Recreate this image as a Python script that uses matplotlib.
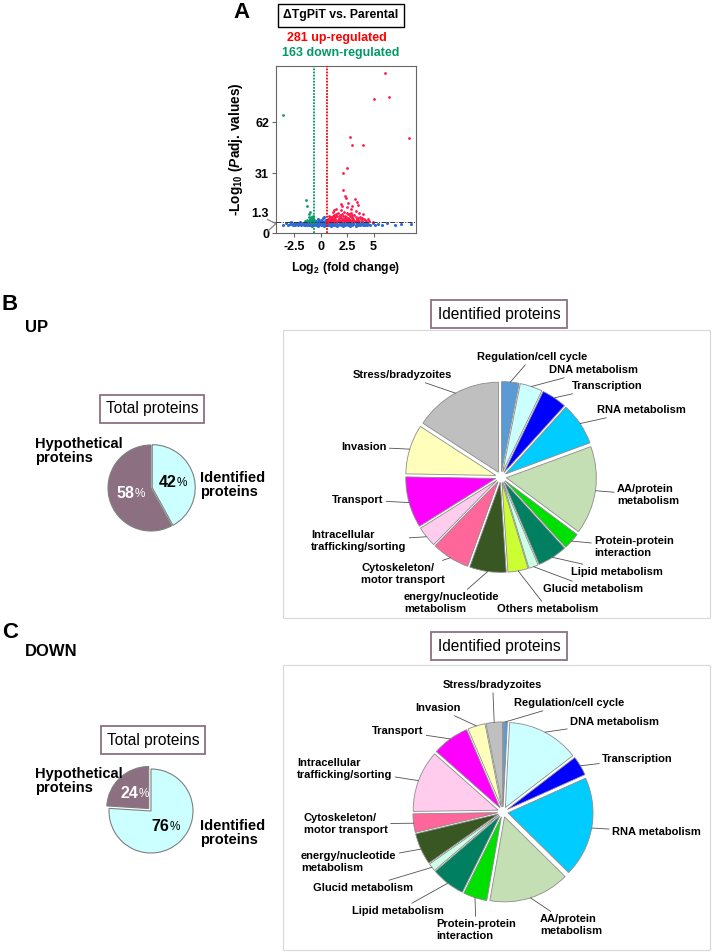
import numpy as np
import matplotlib.pyplot as plt
import matplotlib.transforms as mtransforms
from matplotlib.patches import Rectangle

plt.rcParams['font.family'] = ['Liberation Sans', 'DejaVu Sans']
plt.rcParams['mathtext.fontset'] = 'custom'
plt.rcParams['mathtext.rm'] = 'Liberation Sans'
plt.rcParams['mathtext.bf'] = 'Liberation Sans:bold'
plt.rcParams['mathtext.it'] = 'Liberation Sans:italic:bold'
plt.rcParams['mathtext.default'] = 'bf'

# ---- volcano data (log2 fold change, -log10 padj) ----
up_pts = [(6.1, 92), (5.0, 76), (6.5, 77), (8.35, 52), (2.8, 53), (3.0, 48), (4.0, 48),
          (2.5, 34), (2.1, 31), (2.1, 21), (3.25, 15.5), (2.4, 16), (3.4, 13.5),
          (0.7, 2.0), (0.8, 3.1), (0.9, 1.6), (1.0, 4.2), (1.1, 2.5), (1.2, 1.9), (1.3, 5.6),
          (1.4, 3.0), (1.5, 2.2), (1.6, 6.8), (1.7, 4.0), (1.8, 1.8), (1.9, 3.5), (2.0, 2.6),
          (2.1, 5.0), (2.2, 7.5), (2.3, 2.1), (2.4, 4.4), (2.5, 3.2), (2.6, 1.7), (2.7, 6.1),
          (2.8, 2.8), (2.9, 9.4), (3.0, 3.9), (3.1, 2.3), (3.2, 5.3), (3.3, 1.9), (3.4, 3.3),
          (3.5, 2.5), (3.7, 4.6), (3.9, 2.0), (4.1, 2.9), (0.75, 5.0), (0.95, 2.9), (1.15, 7.2),
          (1.35, 1.5), (1.55, 4.8), (1.75, 2.7), (1.95, 8.3), (2.15, 1.6), (2.35, 3.8),
          (2.55, 5.9), (2.75, 2.0), (2.95, 4.1), (3.15, 1.7), (3.6, 6.6), (1.05, 3.6),
          (1.45, 9.0), (2.05, 11.0), (2.45, 10.2), (3.35, 8.0), (0.85, 2.3), (1.25, 2.9),
          (1.65, 1.9), (2.25, 2.4), (2.65, 3.0), (3.05, 2.2), (3.45, 1.8), (3.8, 3.1),
          (4.3, 1.7), (4.9, 1.5), (1.85, 5.5), (2.85, 7.0), (0.65, 1.5), (4.6, 2.1),
          (0.7, 3.3), (0.8, 1.5), (0.9, 4.6), (1.0, 2.1), (1.1, 3.4), (1.2, 5.0), (1.3, 2.3),
          (1.4, 4.1), (1.5, 6.0), (1.6, 2.8), (1.7, 1.6), (1.8, 4.8), (1.9, 2.0), (2.0, 6.4),
          (2.1, 3.3), (2.2, 1.8), (2.3, 4.9), (2.4, 2.6), (2.5, 7.0), (2.6, 4.0), (2.7, 2.4),
          (2.8, 4.9), (2.9, 1.9), (3.0, 5.8), (3.1, 3.2), (3.2, 2.0), (3.3, 4.3), (3.5, 3.6),
          (3.6, 1.6), (3.9, 4.0), (4.2, 2.4), (4.5, 3.3), (1.9, 12.5), (2.6, 13.0),
          (3.0, 10.8), (1.3, 8.8), (4.0, 6.3), (2.35, 17.0), (3.55, 11.5)]
down_pts = [(-3.58, 66), (-1.4, 14.5), (-1.25, 11.2), (-0.7, 2.0), (-0.8, 3.5), (-0.9, 1.7),
            (-1.0, 2.6), (-1.1, 4.5), (-0.75, 5.2), (-0.85, 2.3), (-0.95, 3.0), (-1.2, 1.9),
            (-0.65, 1.5), (-1.05, 6.3), (-0.7, 3.9), (-1.3, 2.4), (-0.9, 4.2), (-0.8, 1.6),
            (-1.5, 1.8), (-1.1, 2.0), (-0.95, 7.5), (-0.75, 2.8), (-0.85, 1.4), (-0.65, 2.4)]
ns_pts = [(-3.5, 1.0), (-3.3, 1.2), (-3.1, 0.95), (-2.9, 1.1), (-2.8, 1.25), (-2.6, 0.9),
          (-2.5, 1.15), (-2.4, 1.0), (-2.2, 1.2), (-2.1, 0.9), (-2.0, 1.1), (-1.9, 1.25),
          (-1.8, 0.95), (-1.7, 1.15), (-1.6, 1.0), (-1.5, 1.2), (-1.45, 0.9), (-1.4, 1.1),
          (-1.3, 1.25), (-1.25, 0.95), (-1.2, 1.15), (-1.1, 1.0), (-1.05, 1.2), (-1.0, 0.9),
          (-0.9, 1.1), (-0.85, 1.25), (-0.8, 0.95), (-0.7, 1.15), (-0.6, 1.0), (-0.5, 1.2),
          (-0.45, 0.9), (-0.4, 1.1), (-0.3, 1.25), (-0.2, 0.95), (-0.1, 1.15), (0.0, 1.0),
          (0.1, 1.2), (0.2, 0.9), (0.3, 1.1), (0.4, 1.25), (0.5, 0.95), (0.6, 1.15),
          (0.7, 1.0), (0.8, 1.2), (0.9, 0.9), (1.0, 1.1), (1.1, 1.25), (1.2, 0.95),
          (1.3, 1.15), (1.4, 1.0), (1.5, 1.2), (1.6, 0.9), (1.7, 1.1), (1.8, 1.25),
          (1.9, 0.95), (2.0, 1.15), (2.1, 1.0), (2.2, 1.2), (2.3, 0.9), (2.4, 1.1),
          (2.5, 1.25), (2.6, 0.95), (2.7, 1.15), (2.8, 1.0), (2.9, 1.2), (3.0, 0.9),
          (3.1, 1.1), (3.2, 1.25), (3.3, 0.95), (3.4, 1.15), (3.5, 1.0), (3.6, 1.2),
          (3.7, 0.9), (3.8, 1.1), (3.9, 1.25), (4.0, 0.95), (4.1, 1.15), (4.2, 1.0),
          (4.3, 1.2), (4.4, 0.9), (4.5, 1.1), (4.7, 1.0), (4.9, 1.2), (5.1, 0.95),
          (5.4, 1.1), (5.8, 1.0), (6.3, 1.15), (7.0, 1.0), (7.6, 1.1), (8.5, 1.05),
          (-1.75, 1.05), (-1.15, 1.05), (-0.55, 1.05), (0.05, 1.05), (0.65, 1.05),
          (1.25, 1.05), (1.85, 1.05), (2.45, 1.05), (3.05, 1.05), (3.65, 1.05),
          (-2.75, 1.05), (-2.25, 1.05), (0.35, 0.85), (0.95, 0.85), (1.55, 0.85),
          (2.15, 0.85), (2.75, 0.85), (3.35, 0.85), (-0.25, 0.85), (-0.85, 0.85),
          (-0.4, 2.2), (-0.2, 3.0), (0.0, 2.5), (0.2, 3.8), (0.4, 2.0), (-0.5, 1.7),
          (0.1, 1.6), (0.3, 4.4), (-0.3, 1.5), (0.5, 2.7), (-0.1, 1.9)]
fc_cut = 0.58
padj_cut = 1.3
y_ticks = [0, 1.3, 31, 62]
y_ticklabels = ['0', '1.3', '31', '62']
x_ticks = [-2.5, 0, 2.5, 5]
x_ticklabels = ['-2.5', '0', '2.5', '5']

# ---- total protein pies (identified, hypothetical) ----
total_up = [42, 58]
total_down = [76, 24]

# ---- identified categories ----
colors = {
    'Regulation/cell cycle': '#5B9BD5', 'DNA metabolism': '#CCFFFF', 'Transcription': '#0000FF',
    'RNA metabolism': '#00CCFF', 'AA/protein\nmetabolism': '#C4DFB4',
    'Protein-protein\ninteraction': '#00E000', 'Lipid metabolism': '#008060',
    'Glucid metabolism': '#CCFFE6', 'Others metabolism': '#CCFF33',
    'energy/nucleotide\nmetabolism': '#385723', 'Cytoskeleton/\nmotor transport': '#FF6699',
    'Intracellular\ntrafficking/sorting': '#FFCCEE', 'Transport': '#FF00FF',
    'Invasion': '#FFFFBB', 'Stress/bradyzoites': '#BFBFBF'}
up_cats = ['Regulation/cell cycle', 'DNA metabolism', 'Transcription', 'RNA metabolism',
           'AA/protein\nmetabolism', 'Protein-protein\ninteraction', 'Lipid metabolism',
           'Glucid metabolism', 'Others metabolism', 'energy/nucleotide\nmetabolism',
           'Cytoskeleton/\nmotor transport', 'Intracellular\ntrafficking/sorting',
           'Transport', 'Invasion', 'Stress/bradyzoites']
up_vals = [3.1, 4.0, 4.5, 7.6, 15.7, 3.0, 5.3, 1.7, 3.6, 6.5, 6.8, 3.7, 9.1, 8.8, 15.7]
down_cats = ['Regulation/cell cycle', 'DNA metabolism', 'Transcription', 'RNA metabolism',
             'AA/protein\nmetabolism', 'Protein-protein\ninteraction', 'Lipid metabolism',
             'Glucid metabolism', 'energy/nucleotide\nmetabolism',
             'Cytoskeleton/\nmotor transport', 'Intracellular\ntrafficking/sorting',
             'Transport', 'Invasion', 'Stress/bradyzoites']
down_vals = [0.8, 13.7, 3.7, 19.0, 15.3, 4.5, 6.4, 1.5, 6.0, 3.5, 11.7, 7.0, 3.3, 3.1]

# label anchors (left x, centre y) in figure pixels
up_lab_pos = [(477, 357), (549, 370), (572, 386), (597, 410), (617, 495), (594, 547),
              (571, 572), (543, 589), (497, 609), (404, 603), (361, 574), (311, 541),
              (332, 500), (341, 447), (353, 375)]
down_lab_pos = [(514, 703), (570, 722), (602, 759), (612, 832), (540, 925), (436, 930),
                (352, 911), (313, 888), (301, 862), (304, 824), (297, 769), (372, 731),
                (415, 708), (443, 685)]

W, H = 712, 952
fig = plt.figure(figsize=(W / 100, H / 100), dpi=100)
ov = fig.add_axes([0, 0, 1, 1])
ov.axis('off')


def Y(y):
    return H - y


def total_pie(vals, cx, cy, r, explode):
    wedges, _ = ov.pie(vals, colors=['#CCFFFF', '#8C7082'], startangle=90, counterclock=False,
                       center=(cx, Y(cy)), radius=r, explode=[e * r for e in explode],
                       wedgeprops=dict(edgecolor='#7F7F7F', linewidth=0.8))
    tcol = ['black', 'white']
    for w, v, c in zip(wedges, vals, tcol):
        a = np.deg2rad((w.theta1 + w.theta2) / 2)
        tx = w.center[0] + 0.5 * r * np.cos(a)
        ty = w.center[1] + 0.5 * r * np.sin(a)
        ov.text(tx + 4, ty, str(v), ha='right', va='center', fontsize=11.5,
                fontweight='bold', color=c)
        ov.text(tx + 4, ty - 1, '%', ha='left', va='center', fontsize=8.5, color=c)


def ident_pie(cats, vals, cx, cy, r, lab_pos):
    wedges, _ = ov.pie(vals, colors=[colors[c] for c in cats], startangle=90,
                       counterclock=False, center=(cx, Y(cy)), radius=r,
                       explode=[0.06 * r] * len(vals),
                       wedgeprops=dict(edgecolor='#8C8C8C', linewidth=0.6))
    for w, c, (lx, ly) in zip(wedges, cats, lab_pos):
        a = np.deg2rad((w.theta1 + w.theta2) / 2)
        px = w.center[0] + r * np.cos(a)
        py = w.center[1] + r * np.sin(a)
        ov.annotate(c, xy=(px, py), xytext=(lx, Y(ly)), ha='left', va='center',
                    fontsize=8, fontweight='bold', linespacing=1.2,
                    arrowprops=dict(arrowstyle='-', color='#505050', lw=0.6,
                                    shrinkA=0, shrinkB=0))


def box_text(x, y, s, fs):
    ov.text(x, Y(y), s, ha='center', va='center', fontsize=fs,
            bbox=dict(boxstyle='square,pad=0.4', fc='white', ec='#8C7082', lw=1.3))


# panel frames
for y0, y1 in [(330, 618), (665, 950)]:
    ov.add_patch(Rectangle((283, Y(y1)), 427, y1 - y0, fill=False, ec='#D9D9D9', lw=0.8))

total_pie(total_up, 151, 488, 43, [0.03, 0])
total_pie(total_down, 151, 811, 42, [0, 0.08])
ident_pie(up_cats, up_vals, 501, 477, 90, up_lab_pos)
ident_pie(down_cats, down_vals, 503, 812, 85, down_lab_pos)

box_text(152, 409, 'Total proteins', 11.2)
box_text(153, 740, 'Total proteins', 11.2)
box_text(499, 314, 'Identified proteins', 11.2)
box_text(499, 646, 'Identified proteins', 11.2)

for yy in [451, 781]:
    ov.text(35, Y(yy), 'Hypothetical\nproteins', ha='left', va='center', fontsize=10.5,
            fontweight='bold', linespacing=1.05)
for yy in [485, 833]:
    ov.text(200, Y(yy), 'Identified\nproteins', ha='left', va='center', fontsize=10.5,
            fontweight='bold', linespacing=1.05)

ov.text(242, Y(13), 'A', ha='center', va='center', fontsize=16, fontweight='bold')
ov.text(10, Y(305), 'B', ha='center', va='center', fontsize=16, fontweight='bold')
ov.text(25, Y(327), 'UP', ha='left', va='center', fontsize=12, fontweight='bold')
ov.text(10, Y(632), 'C', ha='center', va='center', fontsize=16, fontweight='bold')
ov.text(25, Y(652), 'DOWN', ha='left', va='center', fontsize=12, fontweight='bold')

ov.text(341, Y(15), '\u0394TgPiT vs. Parental', ha='center', va='center', fontsize=8.8,
        fontweight='bold', bbox=dict(boxstyle='square,pad=0.45', fc='white', ec='black', lw=1))
ov.text(337, Y(38), '281 up-regulated', ha='center', va='center', fontsize=9,
        fontweight='bold', color='#FF0000')
ov.text(341, Y(53), '163 down-regulated', ha='center', va='center', fontsize=9,
        fontweight='bold', color='#009966')
ov.set_xlim(0, W)
ov.set_ylim(0, H)

# ---- volcano plot ----
ax = fig.add_axes([276 / W, (H - 233) / H, 140 / W, 167 / H])


def fwd(y):
    y = np.asarray(y, float)
    return np.where(y <= 1.3, y * 11 / 1.3, 11 + (y - 1.3) * 1.645)


def inv(v):
    v = np.asarray(v, float)
    return np.where(v <= 11, v * 1.3 / 11, 1.3 + (v - 11) / 1.645)


ax.set_yscale('function', functions=(fwd, inv))
nx, ny = np.array(ns_pts).T
ux, uy = np.array(up_pts).T
dx, dy = np.array(down_pts).T
ax.scatter(nx, ny, s=5, color='#2F6BD6', linewidths=0, zorder=2)
ax.scatter(ux, uy, s=4, color='#FF1A4A', linewidths=0, zorder=3)
ax.scatter(dx, dy, s=4, color='#0E9A6A', linewidths=0, zorder=3)
ax.axhline(padj_cut, color='#333333', lw=0.7, ls=(0, (5, 1.5, 1, 1.5)), zorder=4)
ax.axvline(-fc_cut, color='#009966', lw=1.3, ls=(0, (1, 0.7)), zorder=4)
ax.axvline(fc_cut, color='#FF0000', lw=1.3, ls=(0, (1, 0.7)), zorder=4)
ax.set_xlim(-4.2, 9.0)
ax.set_ylim(0, 96)
ax.set_yticks(y_ticks)
ax.set_yticklabels(y_ticklabels)
ax.set_xticks(x_ticks)
ax.set_xticklabels(x_ticklabels)
ax.yaxis.set_minor_locator(plt.NullLocator())
ax.tick_params(axis='x', length=3, width=0.8, color='#666666', pad=3, labelsize=9)
ax.tick_params(axis='y', length=3, width=0.8, color='#666666', pad=2, labelsize=9)
for lab in ax.get_xticklabels() + ax.get_yticklabels():
    lab.set_fontweight('bold')
lab13 = ax.get_yticklabels()[1]
lab13.set_transform(lab13.get_transform() +
                    mtransforms.ScaledTranslation(0, 9 / 100, fig.dpi_scale_trans))
for sp in ax.spines.values():
    sp.set_color('#666666')
    sp.set_linewidth(0.8)
ax.set_xlabel('Log$_2$ (fold change)', fontsize=8.8, fontweight='bold', labelpad=5)
ax.set_ylabel('-Log$_{10}$ ($\\mathit{P}$adj. values)', fontsize=9.8, fontweight='bold',
              labelpad=5)
brk = mtransforms.blended_transform_factory(ax.transAxes, ax.transData)
ax.plot([-0.06, 0, -0.06], [2.8, 1.1, 0.2], color='#888888', lw=0.9, transform=brk,
        clip_on=False)

fig.savefig('out.png', dpi=100)
